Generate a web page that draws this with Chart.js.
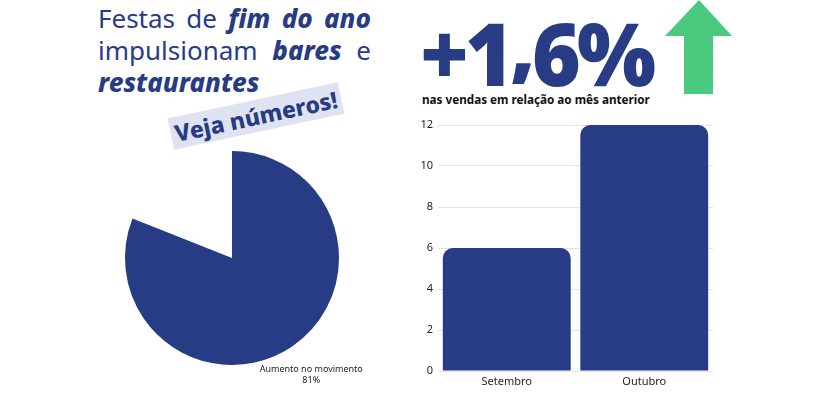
<!DOCTYPE html>
<html>
<head>
<meta charset="utf-8">
<script src="https://cdn.jsdelivr.net/npm/chart.js@4.4.0/dist/chart.umd.min.js"></script>
<style>
  html, body { margin: 0; padding: 0; background: #fff; }
  body { width: 830px; height: 400px; position: relative; overflow: hidden; font-family: "Noto Sans", sans-serif; }
  .title { position: absolute; left: 98px; top: 2px; width: 273px; color: #273c85; font-size: 26px; line-height: 32px; }
  .title div { text-align: justify; text-align-last: justify; white-space: nowrap; }
  .title div.last { text-align-last: left; }
  .title b { font-weight: 800; font-style: italic; }
  .tag { position: absolute; left: 169px; top: 100px; width: 174px; height: 32px; background: #dfe2f0;
         transform: rotate(-12deg); color: #273c85; font-weight: 800; font-size: 23px; line-height: 32px;
         text-align: center; white-space: nowrap; }
  .big { position: absolute; left: 420px; top: -2px; color: #273c85; font-weight: 900; font-size: 86px;
         letter-spacing: -4px; line-height: 110px; transform: scaleX(0.97); transform-origin: left top; }
  .big .comma { display: inline-block; transform: translateY(-7px) scaleY(0.85); }
  .sub { position: absolute; left: 422px; top: 91px; font-weight: 700; font-size: 11.7px; color: #111; }
  .arrow { position: absolute; left: 665px; top: 0; }
  #pieBox { position: absolute; left: 81.5px; top: 108px; width: 300px; height: 300px; }
  #barBox { position: absolute; left: 410px; top: 110px; width: 320px; height: 290px; }
</style>
</head>
<body>
<div class="title">
  <div>Festas de <b>fim do ano</b></div>
  <div>impulsionam <b>bares</b> e</div>
  <div class="last"><b>restaurantes</b></div>
</div>
<div class="tag">Veja números!</div>
<div class="big">+1<span class="comma">,</span>6%</div>
<div class="sub">nas vendas em relação ao mês anterior</div>
<svg class="arrow" width="68" height="95" viewBox="0 0 68 95">
  <polygon points="34,0 67,36 48,36 48,94 19,94 19,36 0,36" fill="#4bc97e"/>
</svg>
<div id="pieBox"><canvas id="pieChart"></canvas></div>
<div id="barBox"><canvas id="barChart"></canvas></div>

<script>
const blue = '#273c85';

// pie data
const pieLabels = ['Aumento no movimento', ''];
const pieValues = [81, 19];

// bar data
const months = ['Setembro', 'Outubro'];
const sales = [6, 12];

const sliceLabel = {
  id: 'sliceLabel',
  afterDatasetsDraw(chart) {
    const ctx = chart.ctx;
    const arc = chart.getDatasetMeta(0).data[0];
    const mid = (arc.startAngle + arc.endAngle) / 2;
    const r = arc.outerRadius + 34;
    const x = arc.x + Math.cos(mid) * r;
    const y = arc.y + Math.sin(mid) * r;
    ctx.save();
    ctx.fillStyle = '#222';
    ctx.font = '9px "Noto Sans", sans-serif';
    ctx.textAlign = 'center';
    ctx.textBaseline = 'middle';
    ctx.fillText(pieLabels[0], x, y - 5.5);
    ctx.fillText(pieValues[0] + '%', x, y + 5.5);
    ctx.restore();
  }
};

new Chart(document.getElementById('pieChart'), {
  type: 'pie',
  data: {
    labels: pieLabels,
    datasets: [{
      data: pieValues,
      backgroundColor: [blue, 'rgba(0,0,0,0)'],
      borderWidth: 0
    }]
  },
  options: {
    responsive: true,
    maintainAspectRatio: false,
    animation: false,
    layout: { padding: 43 },
    plugins: { legend: { display: false }, tooltip: { enabled: false } }
  },
  plugins: [sliceLabel]
});

new Chart(document.getElementById('barChart'), {
  type: 'bar',
  data: {
    labels: months,
    datasets: [{
      data: sales,
      backgroundColor: blue,
      borderRadius: 10,
      barPercentage: 0.93,
      categoryPercentage: 1
    }]
  },
  options: {
    responsive: true,
    maintainAspectRatio: false,
    animation: false,
    layout: { padding: { top: 15, right: 17 } },
    plugins: { legend: { display: false }, tooltip: { enabled: false } },
    scales: {
      x: {
        grid: { display: false, drawTicks: false },
        border: { display: false },
        ticks: { color: '#222', font: { size: 11, family: 'Noto Sans' }, padding: 4 },
        afterFit(scale) { scale.height = 29; }
      },
      y: {
        min: 0,
        max: 12,
        ticks: { stepSize: 2, color: '#222', font: { size: 11, family: 'Noto Sans' }, padding: 5 },
        grid: { color: '#e4e4e4', drawTicks: false },
        border: { display: false },
        afterFit(scale) { scale.width = 28; }
      }
    }
  }
});
</script>
</body>
</html>
